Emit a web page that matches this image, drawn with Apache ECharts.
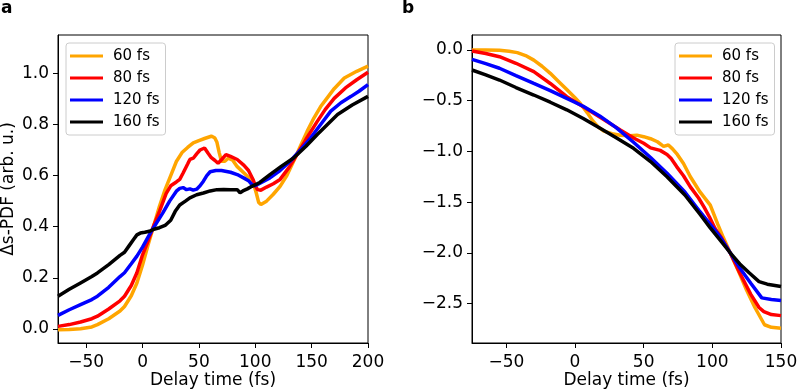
<!DOCTYPE html>
<html lang="en">
<head>
<meta charset="UTF-8">
<title>Delta s-PDF</title>
<script src="https://cdn.jsdelivr.net/npm/echarts@6/dist/echarts.min.js"></script>
<style>html,body{margin:0;padding:0;background:#fff}</style>
</head>
<body>
<div id="main" style="width:797px;height:391px"></div>
<script>
// series names and colours (same for both panels)
var names = ['60 fs', '80 fs', '120 fs', '160 fs']
var colors = ['#ffa500', '#ff0000', '#0000ff', '#000000']

// tick values
var xTicksA = [-50, 0, 50, 100, 150, 200]
var yTicksA = [0, 0.2, 0.4, 0.6, 0.8, 1.0]
var xTicksB = [-50, 0, 50, 100, 150]
var yTicksB = [0, -0.5, -1.0, -1.5, -2.0, -2.5]

// panel a: [delay (fs), value]
var a60 = [[-75,-0.003],[-65,-0.002],[-55,0.001],[-45,0.008],[-40,0.017],[-30,0.04],[-20,0.07],[-16,0.088],[-10,0.13],[-5,0.18],[0,0.25],[5,0.33],[10,0.405],[15,0.48],[20,0.545],[25,0.6],[30,0.655],[35,0.69],[40,0.71],[45,0.728],[50,0.737],[55,0.745],[61,0.754],[64,0.748],[66,0.73],[68,0.69],[70,0.656],[73,0.656],[76,0.668],[80,0.66],[84,0.635],[90,0.61],[96,0.585],[99,0.56],[101,0.53],[103,0.495],[105,0.487],[110,0.5],[116,0.527],[122,0.558],[128,0.6],[134,0.656],[140,0.715],[146,0.773],[152,0.825],[158,0.87],[164,0.905],[170,0.94],[179,0.982],[190,1.008],[200,1.028]]
var a80 = [[-75,0.01],[-65,0.017],[-55,0.027],[-45,0.04],[-40,0.05],[-30,0.078],[-20,0.11],[-16,0.128],[-10,0.17],[-5,0.22],[0,0.29],[5,0.345],[10,0.405],[15,0.46],[21,0.53],[25,0.56],[30,0.575],[33,0.585],[36,0.61],[40,0.645],[42,0.663],[45,0.668],[48,0.685],[51,0.7],[55,0.708],[58,0.688],[61,0.67],[64,0.66],[67,0.648],[70,0.662],[74,0.682],[78,0.675],[84,0.663],[90,0.64],[94,0.62],[98,0.585],[100,0.56],[102,0.545],[105,0.543],[110,0.555],[116,0.568],[122,0.585],[130,0.632],[137,0.682],[145,0.742],[155,0.812],[162,0.858],[170,0.902],[180,0.943],[190,0.975],[200,1.004]]
var a120 = [[-75,0.053],[-65,0.075],[-55,0.095],[-45,0.115],[-40,0.128],[-30,0.163],[-20,0.205],[-16,0.22],[-10,0.255],[-5,0.285],[0,0.32],[5,0.36],[10,0.398],[18,0.454],[24,0.5],[30,0.539],[33,0.55],[36,0.553],[39,0.545],[42,0.548],[45,0.543],[48,0.547],[51,0.56],[54,0.578],[57,0.6],[60,0.615],[65,0.62],[70,0.62],[78,0.613],[84,0.604],[90,0.59],[94,0.58],[97,0.565],[100,0.56],[105,0.572],[113,0.591],[122,0.62],[131,0.656],[140,0.7],[149,0.747],[158,0.8],[167,0.852],[176,0.885],[185,0.91],[192,0.93],[200,0.956]]
var a160 = [[-75,0.128],[-65,0.155],[-55,0.18],[-45,0.205],[-40,0.219],[-30,0.252],[-20,0.288],[-16,0.3],[-12,0.325],[-8,0.35],[-5,0.368],[-2,0.375],[2,0.378],[6,0.382],[10,0.39],[15,0.396],[20,0.405],[25,0.425],[29,0.46],[33,0.485],[38,0.5],[42,0.513],[48,0.525],[54,0.532],[60,0.54],[66,0.545],[72,0.546],[78,0.545],[84,0.545],[86.5,0.533],[89,0.54],[93,0.548],[97,0.558],[104,0.573],[113,0.604],[123,0.636],[134,0.669],[145,0.715],[155,0.761],[164,0.8],[173,0.839],[186,0.876],[200,0.91]]

// panel b
var b60 = [[-75,0.0],[-65,0.0],[-55,-0.003],[-48,-0.012],[-42,-0.026],[-36,-0.055],[-30,-0.1],[-24,-0.16],[-18,-0.23],[-12,-0.31],[-6,-0.39],[0,-0.47],[4,-0.53],[9,-0.62],[13,-0.7],[17,-0.76],[21,-0.8],[27,-0.825],[33,-0.84],[40,-0.845],[45,-0.84],[50,-0.855],[55,-0.875],[60,-0.905],[64.5,-0.95],[68,-0.937],[71,-0.975],[74.5,-1.03],[79,-1.12],[84,-1.25],[91,-1.4],[98.5,-1.53],[104,-1.72],[108,-1.85],[113,-2.0],[119,-2.18],[125,-2.37],[131,-2.54],[138,-2.71],[143,-2.735],[150,-2.745]]
var b80 = [[-75,-0.01],[-65,-0.035],[-55,-0.066],[-43,-0.131],[-30,-0.214],[-18,-0.33],[-6,-0.46],[6,-0.56],[18,-0.66],[33,-0.79],[43,-0.87],[50,-0.92],[55,-0.965],[62,-0.99],[67,-1.03],[70,-1.07],[74,-1.15],[79,-1.24],[84,-1.35],[90,-1.46],[94,-1.55],[98,-1.65],[102,-1.76],[107,-1.86],[113,-2.0],[120,-2.2],[128,-2.41],[134,-2.54],[137.5,-2.58],[143,-2.61],[150,-2.62]]
var b120 = [[-75,-0.092],[-65,-0.135],[-55,-0.18],[-43,-0.253],[-30,-0.33],[-18,-0.4],[-6,-0.477],[6,-0.555],[18,-0.65],[30,-0.765],[42.6,-0.91],[55,-1.06],[67,-1.216],[80,-1.4],[91,-1.595],[98.5,-1.72],[105,-1.83],[113,-2.0],[120,-2.15],[128,-2.3],[136,-2.445],[143,-2.46],[150,-2.47]]
var b160 = [[-75,-0.197],[-65,-0.245],[-55,-0.296],[-43,-0.37],[-30,-0.444],[-18,-0.515],[-6,-0.59],[6,-0.675],[18,-0.77],[30,-0.865],[42.6,-0.97],[55,-1.1],[67,-1.25],[80,-1.43],[91,-1.62],[98.5,-1.755],[106,-1.88],[113,-2.0],[120,-2.11],[127,-2.2],[134,-2.285],[140,-2.31],[150,-2.333]]

var panelA = [a60, a80, a120, a160]
var panelB = [b60, b80, b120, b160]

var font = 'DejaVu Sans'
var minus = function (s) { return s.replace('-', '\u2212') }
var fmtInt = function (v) { return minus(String(v)) }
var fmtOne = function (v) { return minus(v.toFixed(1)) }

function xAxis(idx, min, max, ticks) {
    return {
        type: 'value', gridIndex: idx, min: min, max: max,
        name: 'Delay time (fs)', nameLocation: 'middle', nameGap: 29, nameMoveOverlap: false,
        nameTextStyle: { fontSize: 17, color: '#000', fontFamily: font },
        axisLine: { show: true, onZero: false, lineStyle: { color: '#000', width: 1 } },
        axisTick: { show: true, length: 5, customValues: ticks, lineStyle: { color: '#000' } },
        axisLabel: { customValues: ticks, formatter: fmtInt, fontSize: 17, color: '#000', fontFamily: font, margin: 11 },
        splitLine: { show: false }
    }
}

function yAxis(idx, min, max, ticks, name) {
    return {
        type: 'value', gridIndex: idx, min: min, max: max,
        name: name, nameLocation: 'middle', nameGap: 41,
        nameTextStyle: { fontSize: 17, color: '#000', fontFamily: font },
        axisLine: { show: true, onZero: false, lineStyle: { color: '#000', width: 1 } },
        axisTick: { show: true, length: 5, customValues: ticks, lineStyle: { color: '#000' } },
        axisLabel: { customValues: ticks, formatter: fmtOne, fontSize: 17, color: '#000', fontFamily: font, margin: 9 },
        splitLine: { show: false }
    }
}

function legend(left) {
    return {
        data: names, orient: 'vertical', left: left, top: 43,
        icon: 'rect', itemWidth: 33, itemHeight: 3, itemGap: 4,
        selectedMode: false,
        padding: [4, 6, 4, 4],
        backgroundColor: '#fff', borderColor: '#ccc', borderWidth: 1, borderRadius: 3,
        textStyle: { fontSize: 15, color: '#000', fontFamily: font, lineHeight: 18, padding: [0, 0, 0, 5] }
    }
}

var series = []
panelA.forEach(function (d, i) {
    series.push({ name: names[i], type: 'line', xAxisIndex: 0, yAxisIndex: 0, data: d,
        showSymbol: false, symbol: 'none', color: colors[i], lineStyle: { width: 3.5, color: colors[i] } })
})
panelB.forEach(function (d, i) {
    series.push({ name: names[i], type: 'line', xAxisIndex: 1, yAxisIndex: 1, data: d,
        showSymbol: false, symbol: 'none', color: colors[i], lineStyle: { width: 3.5, color: colors[i] } })
})

var myChart = echarts.init(document.getElementById('main'))
myChart.setOption({
    animation: false,
    title: [
        { text: 'a', left: 1, top: 0, padding: 0, textStyle: { fontSize: 17, fontWeight: 'bold', color: '#000', fontFamily: font } },
        { text: 'b', left: 402, top: 0, padding: 0, textStyle: { fontSize: 17, fontWeight: 'bold', color: '#000', fontFamily: font } }
    ],
    grid: [
        { left: 58, top: 35, width: 310, height: 308, outerBoundsMode: 'none', show: true, borderColor: '#000', borderWidth: 1 },
        { left: 472, top: 35, width: 309, height: 308, outerBoundsMode: 'none', show: true, borderColor: '#000', borderWidth: 1 }
    ],
    legend: [legend(66), legend(675)],
    xAxis: [xAxis(0, -75, 200, xTicksA), xAxis(1, -75, 150, xTicksB)],
    yAxis: [yAxis(0, -0.055, 1.15, yTicksA, '\u0394s-PDF (arb. u.)'), yAxis(1, -2.89, 0.148, yTicksB, '')],
    series: series
})
</script>
</body>
</html>
